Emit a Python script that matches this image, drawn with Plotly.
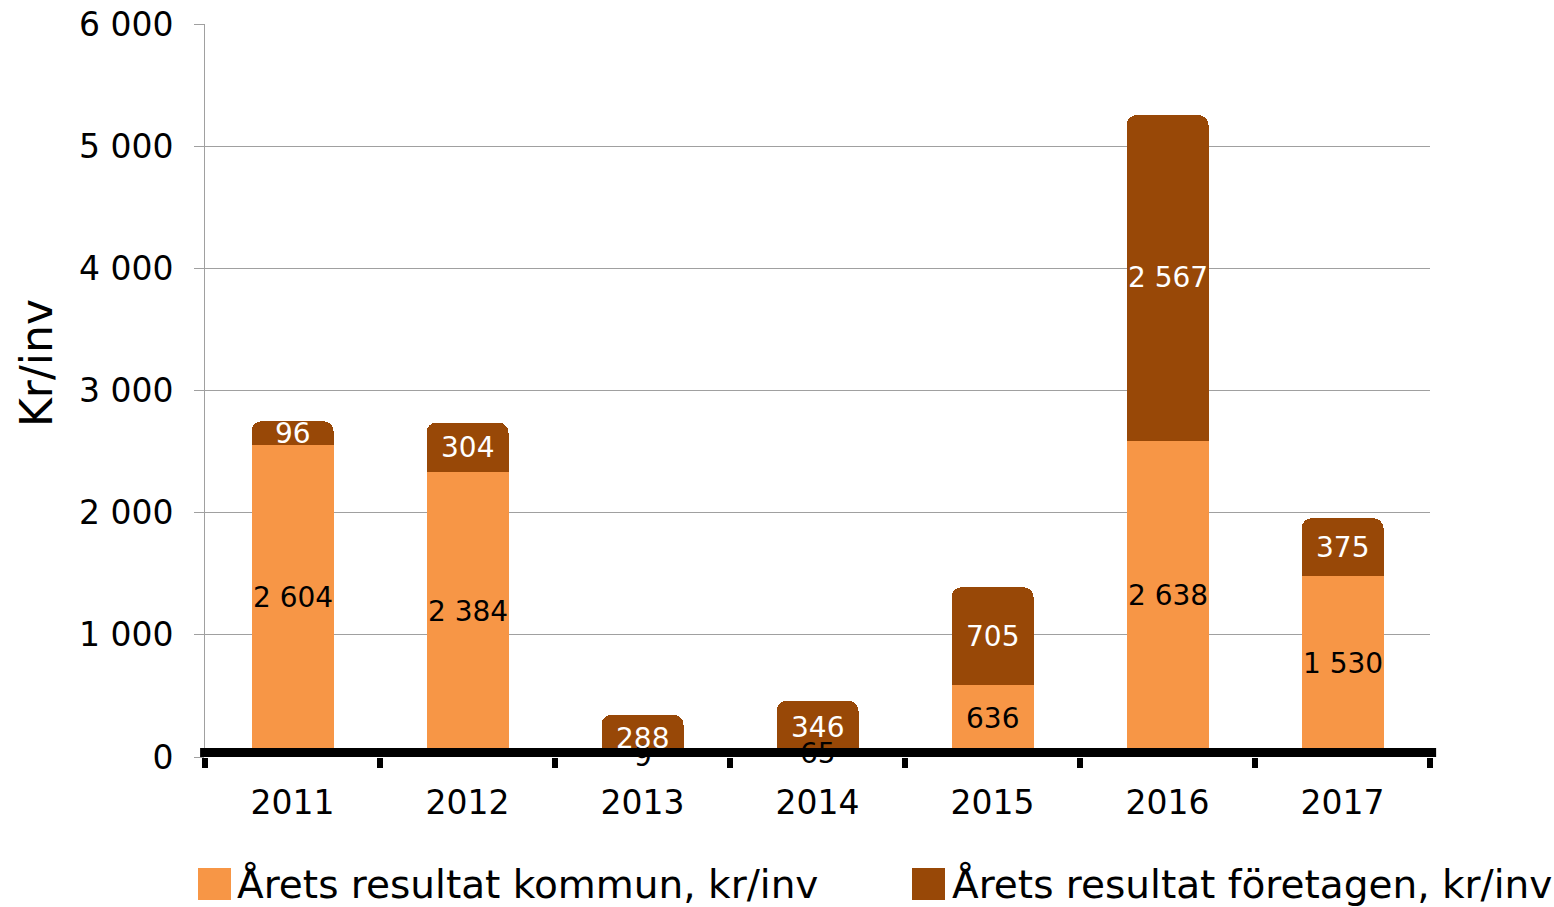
import plotly.graph_objects as go

years = ["2011", "2012", "2013", "2014", "2015", "2016", "2017"]
kommun = [2604, 2384, 9, 65, 636, 2638, 1530]
foretagen = [96, 304, 288, 346, 705, 2567, 375]
y_ticks = [0, 1000, 2000, 3000, 4000, 5000, 6000]
series_names = ["Årets resultat kommun, kr/inv", "Årets resultat företagen, kr/inv"]
colors = ["#F79646", "#984807"]

FONT = "DejaVu Sans"
W, H = 1554, 907
L, R, T, B = 205, 124, 24, 150
PW, PH = W - L - R, H - T - B


def px(x):
    return (x - L) / PW


def py(y):
    return (H - B - y) / PH


def fmt(v):
    return f"{v:,}".replace(",", " ")


fig = go.Figure()
fig.add_trace(go.Bar(
    x=years, y=kommun, name=series_names[0], showlegend=False,
    marker=dict(color=colors[0], line=dict(width=12, color=colors[0]), cornerradius=4),
))
fig.add_trace(go.Bar(
    x=years, y=foretagen, name=series_names[1], showlegend=False,
    marker=dict(color=colors[1], line=dict(width=12, color=colors[1]), cornerradius=4),
))

# thick zero axis line
fig.add_shape(type="rect", xref="paper", yref="y", x0=-0.004, x1=1.005,
              ysizemode="pixel", yanchor=0, y0=-3, y1=9,
              fillcolor="black", line=dict(width=0), layer="above")

# data labels (x given as category index)
for i, (k, f) in enumerate(zip(kommun, foretagen)):
    fig.add_annotation(x=i, y=k / 2, text=fmt(k), showarrow=False,
                       font=dict(family=FONT, size=28, color="black"),
                       xanchor="center", yanchor="middle")
    fig.add_annotation(x=i, y=k + f / 2, text=fmt(f), showarrow=False,
                       font=dict(family=FONT, size=28, color="white"),
                       xanchor="center", yanchor="middle")

# y-axis title
fig.add_annotation(xref="paper", yref="paper", x=px(36), y=py(363), text="Kr/inv",
                   textangle=-90, showarrow=False, xanchor="center", yanchor="middle",
                   font=dict(family=FONT, size=44, color="black"))

# manual legend
legend_items = [(198, 235), (912, 950)]
for (sx, tx), name, col in zip(legend_items, series_names, colors):
    fig.add_shape(type="rect", xref="paper", yref="paper",
                  x0=px(sx), x1=px(sx + 33), y0=py(868), y1=py(900),
                  fillcolor=col, line=dict(width=0), layer="above")
    fig.add_annotation(xref="paper", yref="paper", x=px(tx), y=py(884),
                       text=name, showarrow=False, xanchor="left", yanchor="middle",
                       font=dict(family=FONT, size=39, color="black"))

fig.update_layout(
    width=W, height=H,
    barmode="stack", bargap=0.6,
    separators=", ",
    paper_bgcolor="white", plot_bgcolor="white",
    margin=dict(l=L, r=R, t=T, b=B, autoexpand=False),
    font=dict(family=FONT, size=33, color="black"),
    showlegend=False,
)
fig.update_xaxes(
    type="category", range=[-0.5, len(years) - 0.5], showgrid=False, showline=False,
    automargin=False,
    ticks="outside", tickson="boundaries", ticklen=10, tickwidth=6, tickcolor="black",
    ticklabelstandoff=23,
    tickfont=dict(family=FONT, size=33, color="black"),
)
fig.update_yaxes(
    range=[0, 6000], tickvals=y_ticks, tickformat=",d", automargin=False,
    showgrid=True, gridcolor="#A0A0A0", gridwidth=1,
    showline=True, linecolor="#A0A0A0", linewidth=1,
    ticks="outside", ticklen=10, tickcolor="#A0A0A0",
    ticklabelstandoff=14,
    tickfont=dict(family=FONT, size=33, color="black"),
    zeroline=False,
)

fig.write_html("out.html", config={"displayModeBar": False},
               post_script="document.body.style.margin='0';document.body.style.overflow='hidden';")
